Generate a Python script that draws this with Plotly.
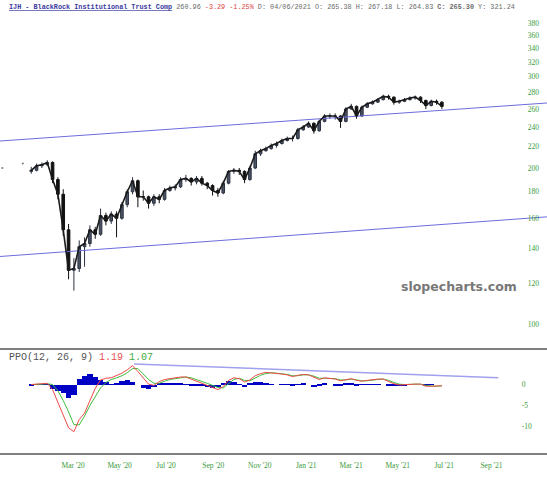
import pandas as pd
import numpy as np
import plotly.graph_objs as go

# weekly bars (first week starts 2020-01-06)
week_dates = pd.date_range('2020-01-06', periods=78, freq='7D')

first_open = 197
closes = [198, 202, 203, 205, 190, 178, 152, 127, 128, 141,
          143, 152, 149, 162, 158, 163, 160, 170, 180, 189,
          176, 176, 171, 176, 174, 181, 183, 184, 190, 191,
          188, 191, 187, 185, 181, 179, 187, 197, 198, 197,
          190, 200, 213, 216, 218, 221, 223, 226, 228, 228,
          237, 240, 244, 236, 246, 252, 252, 252, 246, 260,
          263, 252, 262, 266, 268, 271, 275, 274, 268, 269,
          271, 273, 274, 270, 264, 269, 268, 263]
highs = [201, 204, 205, 207, 206, 192, 182, 156, 134, 145,
         147, 155, 154, 167, 164, 165, 165, 172, 182, 192,
         190, 181, 177, 178, 178, 183, 185, 186, 192, 194,
         192, 193, 193, 188, 186, 183, 189, 198, 200, 200,
         198, 202, 216, 218, 220, 223, 225, 228, 230, 231,
         239, 242, 246, 245, 248, 254, 255, 255, 253, 262,
         266, 264, 264, 268, 270, 273, 277, 277, 275, 271,
         273, 275, 276, 275, 271, 271, 271, 269]
lows = [195, 197, 200, 202, 187, 174, 148, 122, 116, 126,
        129, 141, 146, 148, 155, 156, 147, 159, 168, 178,
        168, 173, 167, 169, 171, 173, 180, 181, 183, 188,
        185, 186, 185, 182, 177, 176, 178, 186, 195, 194,
        187, 189, 199, 211, 215, 217, 219, 222, 225, 225,
        227, 236, 239, 233, 235, 245, 249, 248, 239, 245,
        259, 249, 251, 261, 265, 267, 270, 271, 265, 266,
        268, 270, 271, 267, 260, 263, 265, 260]
opens = [first_open] + closes[:-1]

# stray prints before the series starts
dot_dates = ['2019-11-29', '2019-12-26']
dot_prices = [200, 204]

# PPO(12, 26, 9)
ppo = [0.0, 0.1, 0.2, 0.3, -1.2, -4.2, -7.6, -10.3, -11.2, -8.3,
       -6.8, -3.8, -0.9, 1.1, 1.5, 1.6, 2.1, 2.7, 3.5, 4.5,
       3.1, 1.6, 0.1, -0.2, 0.7, 1.2, 1.4, 1.6, 1.8, 1.8,
       1.3, 0.9, 0.4, -0.1, -0.6, -1.2, -0.5, 1.0, 1.6, 1.4,
       0.6, 1.1, 2.1, 2.6, 2.9, 2.8, 2.7, 2.5, 2.3, 1.9,
       2.2, 2.4, 2.3, 1.8, 1.2, 1.6, 1.5, 1.3, 0.9, 1.2,
       1.4, 1.0, 0.8, 1.0, 1.2, 1.3, 1.3, 0.7, 0.2, -0.1,
       0.0, 0.1, 0.1, 0.1, -0.4, -0.4, -0.4, -0.3]
signal = [0.0, 0.0, 0.1, 0.2, 0.0, -1.5, -3.8, -6.5, -9.5, -9.6,
          -7.5, -5.0, -2.8, -0.8, 0.5, 1.2, 1.6, 2.1, 2.8, 3.8,
          3.8, 2.6, 1.2, 0.3, 0.3, 0.8, 1.2, 1.4, 1.6, 1.8,
          1.6, 1.2, 0.8, 0.3, -0.2, -0.7, -0.8, 0.2, 1.2, 1.5,
          1.0, 0.9, 1.6, 2.2, 2.6, 2.8, 2.7, 2.6, 2.4, 2.1,
          2.1, 2.3, 2.3, 2.0, 1.5, 1.5, 1.5, 1.4, 1.1, 1.1,
          1.3, 1.1, 0.9, 0.9, 1.1, 1.2, 1.3, 1.0, 0.5, 0.1,
          0.0, 0.1, 0.1, 0.1, -0.2, -0.3, -0.4, -0.3]
hist = [-0.3, 0.1, 0.1, 0.1, -1.0, -1.5, -2.0, -3.2, -2.4, 1.3,
        2.1, 2.5, 1.7, 1.0, 0.5, -0.1, 0.4, 0.8, 1.0, 0.5,
        0.0, -0.8, -1.0, -0.5, 0.2, 0.3, 0.2, 0.2, 0.2, 0.1,
        -0.2, -0.3, -0.4, -0.5, -0.7, -0.5, 0.3, 0.9, 0.6, -0.1,
        -0.5, 0.3, 0.6, 0.5, 0.4, 0.1, 0.0, -0.1, -0.1, -0.3,
        0.1, 0.2, 0.0, -0.6, -0.4, 0.2, 0.0, -0.3, -0.2, 0.3,
        0.2, -0.4, -0.1, 0.1, 0.1, 0.1, 0.0, -0.2, -0.3, -0.4,
        -0.2, 0.0, 0.0, 0.0, -0.2, -0.1, 0.0, 0.0]

# drawn trend lines
upper_line_x = ['2019-11-26', '2021-11-13']
upper_line_y = [225.5, 267]
lower_line_x = ['2019-11-26', '2021-11-13']
lower_line_y = [135, 161]
ppo_line_x = ['2020-05-20', '2021-09-10']
ppo_line_y = [4.9, 1.6]

month_ticks = ['2020-03-01', '2020-05-01', '2020-07-01', '2020-09-01', '2020-11-01',
               '2021-01-01', '2021-03-01', '2021-05-01', '2021-07-01', '2021-09-01']
month_labels = ["Mar '20", "May '20", "Jul '20", "Sep '20", "Nov '20",
                "Jan '21", "Mar '21", "May '21", "Jul '21", "Sep '21"]
price_ticks = list(range(100, 400, 20))

green = '#3a9a3a'
tick_font = dict(family='Liberation Serif', size=7.5, color=green)

fig = go.Figure()

fig.add_trace(go.Scatter(x=upper_line_x, y=upper_line_y, mode='lines',
                         line=dict(color='#6c6ce0', width=1), xaxis='x', yaxis='y'))
fig.add_trace(go.Scatter(x=lower_line_x, y=lower_line_y, mode='lines',
                         line=dict(color='#6c6ce0', width=1), xaxis='x', yaxis='y'))
fig.add_trace(go.Scatter(x=dot_dates, y=dot_prices, mode='markers',
                         marker=dict(color='#777777', size=2), xaxis='x', yaxis='y'))
fig.add_trace(go.Scatter(x=week_dates, y=closes, mode='lines',
                         line=dict(color='#1a1a1a', width=1.6), xaxis='x', yaxis='y'))
fig.add_trace(go.Candlestick(x=week_dates, open=opens, high=highs, low=lows, close=closes,
                             increasing=dict(line=dict(color='#2b3140', width=1), fillcolor='#4a5262'),
                             decreasing=dict(line=dict(color='#111111', width=1), fillcolor='#111111'),
                             xaxis='x', yaxis='y'))

fig.add_trace(go.Bar(x=week_dates, y=hist, width=7 * 86400000,
                     marker=dict(color='#0000c4', line=dict(width=0)), xaxis='x2', yaxis='y2'))
fig.add_trace(go.Scatter(x=week_dates, y=signal, mode='lines',
                         line=dict(color='#3cbf3c', width=1), xaxis='x2', yaxis='y2'))
fig.add_trace(go.Scatter(x=week_dates, y=ppo, mode='lines',
                         line=dict(color='#f04848', width=1), xaxis='x2', yaxis='y2'))
fig.add_trace(go.Scatter(x=ppo_line_x, y=ppo_line_y, mode='lines',
                         line=dict(color='#a0a0ee', width=1.5), xaxis='x2', yaxis='y2'))

x_range = ['2019-11-26', '2021-11-13']

fig.update_layout(
    width=547, height=480,
    margin=dict(l=0, r=0, t=0, b=0),
    paper_bgcolor='white', plot_bgcolor='white',
    showlegend=False,
    hovermode=False,
    bargap=0,
    xaxis=dict(domain=[0, 1], anchor='y', range=x_range, showticklabels=False,
               showgrid=False, zeroline=False, rangeslider=dict(visible=False)),
    yaxis=dict(domain=[0.2729, 0.9583], type='log',
               range=[np.log10(89.5), np.log10(386)],
               anchor='free', position=0.963, side='right',
               tickvals=price_ticks, ticktext=[str(v) for v in price_ticks],
               tickfont=tick_font, ticks='', showgrid=False, zeroline=False,
               automargin=False),
    xaxis2=dict(domain=[0, 1], anchor='y2', matches='x', range=x_range,
                tickvals=month_ticks, ticktext=month_labels, tickfont=tick_font,
                ticks='', ticklabelstandoff=6, showgrid=False, zeroline=False,
                automargin=False),
    yaxis2=dict(domain=[0.0542, 0.2729], range=[-16.5, 8.45],
                anchor='free', position=0.952, side='right',
                tickvals=[0, -5, -10], ticktext=['0', '-5', '-10'],
                tickfont=tick_font, ticks='', showgrid=False, zeroline=False,
                automargin=False),
    shapes=[
        dict(type='line', xref='paper', yref='paper', x0=0, x1=1, y0=0.2729, y1=0.2729,
             line=dict(color='#555555', width=1.5)),
        dict(type='line', xref='paper', yref='paper', x0=0, x1=1, y0=0.0542, y1=0.0542,
             line=dict(color='#555555', width=1.5)),
    ],
    annotations=[
        dict(xref='paper', yref='paper', x=0.012, y=0.985, xanchor='left', yanchor='middle',
             showarrow=False, font=dict(family='Liberation Mono', size=6.8, color='#6a6a6a'),
             text="<span style='color:#3a3aa0'><u><b>IJH - BlackRock Institutional Trust Comp</b></u></span>"
                  " 260.96 <span style='color:#e04040'>-3.29 -1.25%</span>"
                  " D: 04/06/2021 O: 265.38 H: 267.18 L: 264.83 <b>C: 265.30</b> Y: 321.24"),
        dict(xref='paper', yref='paper', x=0.012, y=0.256, xanchor='left', yanchor='middle',
             showarrow=False, font=dict(family='Liberation Mono', size=10, color='#555555'),
             text="PPO(12, 26, 9) <span style='color:#e85050'>1.19</span>"
                  " <span style='color:#44aa44'>1.07</span>"),
        dict(xref='paper', yref='paper', x=0.839, y=0.404, xanchor='center', yanchor='middle',
             showarrow=False, font=dict(family='DejaVu Sans', size=12.5, color='#777777'),
             text='<b>slopecharts.com</b>'),
    ],
)

# page body has a default 8px margin; drop it so the figure sits at the window corner
fig.write_html("out.html", config={'displayModeBar': False},
               post_script="document.body.style.margin = '0';")
